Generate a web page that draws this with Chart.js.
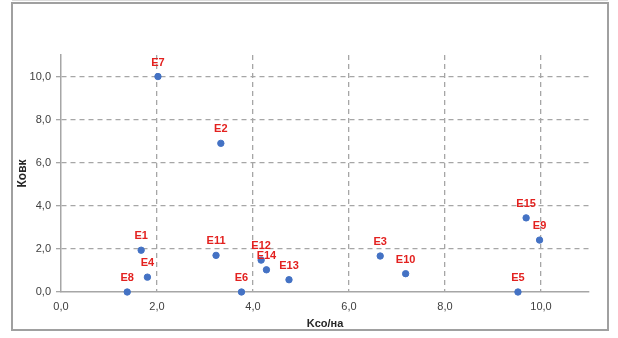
<!DOCTYPE html>
<html>
<head>
<meta charset="utf-8">
<script src="https://cdn.jsdelivr.net/npm/chart.js@4"></script>
<style>
  html, body { margin: 0; padding: 0; background: #fff; }
</style>
</head>
<body>
<canvas id="chart" width="618" height="338"></canvas>
<script>
// points
var pointLabels = ['E7', 'E2', 'E1', 'E4', 'E8', 'E11', 'E6', 'E12', 'E14', 'E13', 'E3', 'E10', 'E5', 'E15', 'E9']
var kcoValues = [2.02, 3.33, 1.67, 1.80, 1.38, 3.23, 3.76, 4.17, 4.28, 4.75, 6.65, 7.18, 9.52, 9.69, 9.97]
var kovkValues = [10.0, 6.9, 1.94, 0.69, 0.0, 1.70, 0.0, 1.48, 1.03, 0.57, 1.67, 0.85, 0.0, 3.44, 2.41]

var xTitle = 'Kсо/на'
var yTitle = 'Ковк'

var font = '"Liberation Sans", Arial, sans-serif'
var gridColor = '#a6a6a6'

var points = kcoValues.map((x, i) => ({ x: x, y: kovkValues[i] }))

const frame = {
  id: 'frame',
  beforeDraw: (chart) => {
    const ctx = chart.ctx
    ctx.save()
    ctx.strokeStyle = '#dcdcdc'
    ctx.lineWidth = 1
    ctx.beginPath()
    ctx.moveTo(12, 0.5)
    ctx.lineTo(608, 0.5)
    ctx.stroke()
    ctx.strokeStyle = '#a0a0a0'
    ctx.lineWidth = 2
    ctx.strokeRect(12, 3, 596, 327)
    ctx.restore()
  }
}

const pointNames = {
  id: 'pointNames',
  afterDatasetsDraw: (chart) => {
    const ctx = chart.ctx
    const meta = chart.getDatasetMeta(0)
    ctx.save()
    ctx.fillStyle = '#e3211f'
    ctx.font = 'bold 11px ' + font
    ctx.textAlign = 'center'
    ctx.textBaseline = 'middle'
    meta.data.forEach((el, i) => {
      ctx.fillText(pointLabels[i], el.x, el.y - 14)
    })
    ctx.restore()
  }
}

const evenTicks = (scale) => {
  scale.ticks = scale.ticks.filter(t => t.value % 2 === 0)
}

const gridLine = (c) => c.tick && c.tick.value === 0 ? 'rgba(0,0,0,0)' : gridColor

var chart = new Chart(document.getElementById('chart'), {
  type: 'scatter',
  data: {
    datasets: [{
      data: points,
      backgroundColor: '#4472c4',
      borderColor: '#4472c4',
      pointRadius: 3.2,
      pointHoverRadius: 3.2,
      clip: false
    }]
  },
  options: {
    responsive: false,
    animation: false,
    layout: { padding: { left: 0, top: 55, right: 29, bottom: 0 } },
    plugins: {
      legend: { display: false },
      tooltip: { enabled: false }
    },
    scales: {
      x: {
        type: 'linear',
        min: 0,
        max: 11,
        afterBuildTicks: evenTicks,
        afterFit: (scale) => { scale.height = 46 },
        ticks: {
          stepSize: 2,
          padding: 8,
          color: '#404040',
          font: { family: font, size: 11 },
          callback: (v) => v.toFixed(1).replace('.', ',')
        },
        grid: { color: gridLine, lineWidth: 1.3, drawTicks: false, borderDash: [5, 4] },
        border: { display: true, color: gridColor, width: 1.5, dash: [5, 4] },
        title: {
          display: true,
          text: xTitle,
          color: '#262626',
          font: { family: font, size: 11, weight: 'bold' },
          padding: { top: 0, bottom: 7 }
        }
      },
      y: {
        type: 'linear',
        min: 0,
        max: 11,
        afterBuildTicks: evenTicks,
        afterFit: (scale) => { scale.width = 61 },
        ticks: {
          stepSize: 2,
          padding: 5,
          color: '#404040',
          font: { family: font, size: 11 },
          callback: (v) => v.toFixed(1).replace('.', ',')
        },
        grid: { color: gridLine, tickColor: gridColor, tickLength: 5, lineWidth: 1.3, borderDash: [5, 4] },
        border: { display: true, color: gridColor, width: 1.5, dash: [5, 4] },
        title: {
          display: true,
          text: yTitle,
          color: '#262626',
          font: { family: font, size: 12, weight: 'bold' },
          padding: { top: 15, bottom: 0 }
        }
      }
    }
  },
  plugins: [frame, pointNames]
})
</script>
</body>
</html>
